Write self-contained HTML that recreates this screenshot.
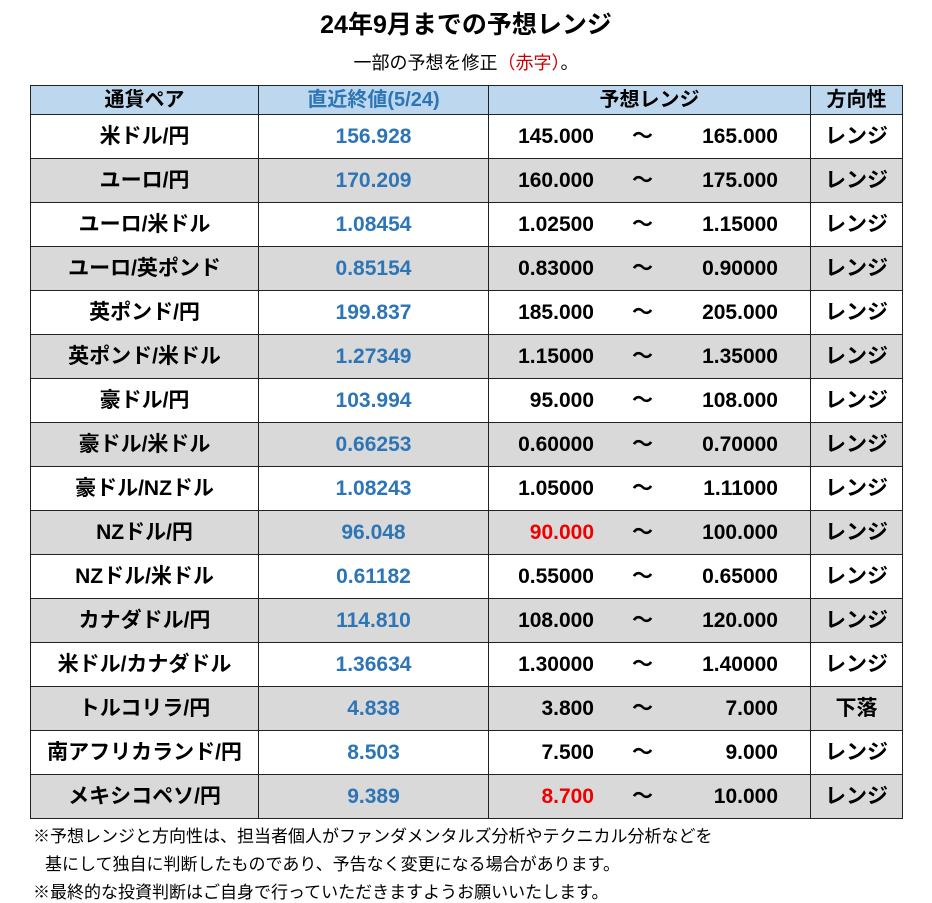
<!DOCTYPE html>
<html><head><meta charset="utf-8"><style>
body{margin:0;width:932px;height:903px;background:#fff;font-family:"Liberation Sans","Noto Sans CJK JP",sans-serif;position:relative;overflow:hidden}
.t{position:absolute;left:0;width:932px;text-align:center}
#title{top:5px;font-size:25px;font-weight:bold}
#sub{top:49px;font-size:18px}
table{position:absolute;left:30px;top:85px;border-collapse:collapse;font-weight:bold;font-size:21px}
td{border:1.5px solid #222;height:43px;padding:0;text-align:center;vertical-align:middle;line-height:24px}
tr.h td{background:#bdd7ee;height:28px;font-size:20px}
tr.g td{background:#d9d9d9}
.blue{color:#2e75b6}
.red{color:#e00}
.rg{position:relative}
.rg span{position:absolute;top:50%;margin-top:-12px}
.lo{right:216px;text-align:right}
.ti{left:143px}
.hi{right:32px;text-align:right}
.note{position:absolute;left:33px;font-size:17px}
</style></head><body>
<div id="title" class="t">24年9月までの予想レンジ</div>
<div id="sub" class="t">一部の予想を修正<span style="color:#c00">（赤字）</span>。</div>
<table id="tbl">
<colgroup><col style="width:228px"><col style="width:230px"><col style="width:322px"><col style="width:92px"></colgroup>
<tr class="h"><td>通貨ペア</td><td class="blue">直近終値(5/24)</td><td>予想レンジ</td><td>方向性</td></tr>
</table>
<div class="note" style="top:822px">※予想レンジと方向性は、担当者個人がファンダメンタルズ分析やテクニカル分析などを</div>
<div class="note" style="top:850px;left:45px">基にして独自に判断したものであり、予告なく変更になる場合があります。</div>
<div class="note" style="top:878px">※最終的な投資判断はご自身で行っていただきますようお願いいたします。</div>
<script>
const pairs=["米ドル/円","ユーロ/円","ユーロ/米ドル","ユーロ/英ポンド","英ポンド/円","英ポンド/米ドル","豪ドル/円","豪ドル/米ドル","豪ドル/NZドル","NZドル/円","NZドル/米ドル","カナダドル/円","米ドル/カナダドル","トルコリラ/円","南アフリカランド/円","メキシコペソ/円"];
const closes=["156.928","170.209","1.08454","0.85154","199.837","1.27349","103.994","0.66253","1.08243","96.048","0.61182","114.810","1.36634","4.838","8.503","9.389"];
const lows=["145.000","160.000","1.02500","0.83000","185.000","1.15000","95.000","0.60000","1.05000","90.000","0.55000","108.000","1.30000","3.800","7.500","8.700"];
const highs=["165.000","175.000","1.15000","0.90000","205.000","1.35000","108.000","0.70000","1.11000","100.000","0.65000","120.000","1.40000","7.000","9.000","10.000"];
const revised=[false,false,false,false,false,false,false,false,false,true,false,false,false,false,false,true];
const dirs=["レンジ","レンジ","レンジ","レンジ","レンジ","レンジ","レンジ","レンジ","レンジ","レンジ","レンジ","レンジ","レンジ","下落","レンジ","レンジ"];
const tb=document.getElementById('tbl');
pairs.forEach((p,i)=>{
 const tr=document.createElement('tr');
 
 
 if(i%2)tr.className='g';
 const c1=document.createElement('td');c1.textContent=p;
 
 
 const c2=document.createElement('td');c2.textContent=closes[i];c2.className='blue';
 
 
 const c3=document.createElement('td');c3.className='rg';
 
 
 c3.innerHTML='<span class="lo'+(revised[i]?' red':'')+'">'+lows[i]+'</span><span class="ti">～</span><span class="hi">'+highs[i]+'</span>';
 const c4=document.createElement('td');c4.textContent=dirs[i];
 
 
 tr.append(c1,c2,c3,c4);tb.appendChild(tr);
});
</script>
</body></html>
